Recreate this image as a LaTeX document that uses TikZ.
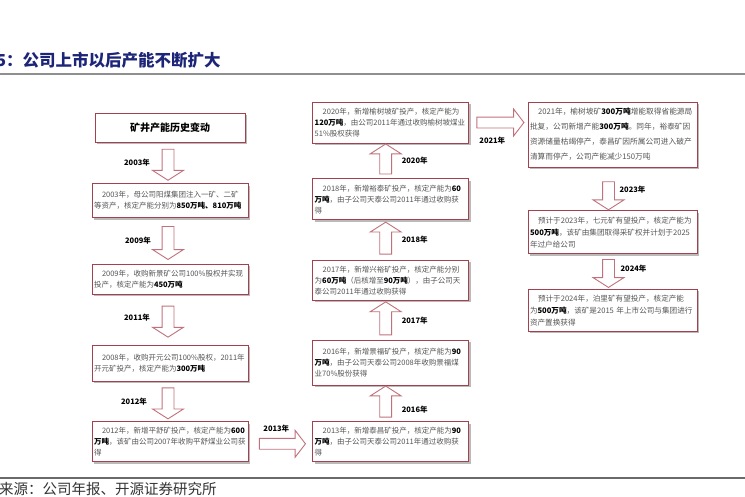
\documentclass[tikz,border=0pt]{standalone}
\usepackage{fontspec}
\setmainfont{Noto Sans CJK SC}
\usetikzlibrary{shapes.arrows, positioning, calc, shadows}
\definecolor{CardLine}{HTML}{A5414F}
\definecolor{ArrowLine}{HTML}{C0727C}
\definecolor{TitleBlue}{HTML}{1C2577}
\definecolor{BodyGray}{HTML}{555555}
\definecolor{RuleGray}{HTML}{8F8F8F}
\definecolor{FootGray}{HTML}{6A6A6A}
\newcommand{\bnum}[1]{\textbf{\color{black}#1}}
\newcommand{\ind}{\hspace*{8pt}}

\begin{document}
\begin{tikzpicture}[x=1pt, y=1pt,
    card/.style={
        rectangle, draw=CardLine, line width=0.7pt, fill=white,
        drop shadow={shadow xshift=2pt, shadow yshift=-2pt,
                     fill=black!45, opacity=0.6},
        text width=#1, align=left, inner xsep=2pt, inner ysep=1pt,
        font=\fontsize{7.5}{11}\selectfont, text=BodyGray
    },
    card/.default={152pt},
    downarr/.style={
        single arrow, shape border rotate=270, draw=ArrowLine,
        line width=0.9pt, fill=white, inner sep=5.5pt,
        single arrow head extend=9.5pt, single arrow tip angle=115,
        minimum height=#1
    },
    uparr/.style={downarr=#1, shape border rotate=90},
    rightarr/.style={
        single arrow, draw=ArrowLine, line width=0.9pt, fill=white,
        inner sep=5pt, single arrow head extend=8pt,
        single arrow tip angle=105, minimum height=#1
    },
    yr/.style={font=\fontsize{7.5}{9}\selectfont\bfseries, text=black,
               inner sep=0pt}
]
\useasboundingbox (0,0) rectangle (745,-496);

% ===================================================================
% TITLE AND SOURCE
% ===================================================================
\node[anchor=west, inner sep=0pt, text=TitleBlue,
      font=\fontsize{16.5}{17}\selectfont\bfseries] (title) at (-4,-60)
    {5：公司上市以后产能不断扩大};
\draw[RuleGray, line width=1.6pt] (0,-74) -- (745,-74);

\draw[FootGray, line width=1.3pt] (0,-478) -- (745,-478);
\node[anchor=west, inner sep=0pt, text=black!80,
      font=\fontsize{14.5}{15}\selectfont] (source) at (-1,-489)
    {来源：公司年报、开源证券研究所};

% ===================================================================
% LEFT COLUMN: 2003 -- 2012
% ===================================================================
\node[card=146pt, minimum height=29pt, align=center, text=black,
      font=\fontsize{10}{12}\selectfont\bfseries] (hist) at (170,-127.5)
    {矿井产能历史变动};

\node[card, below=41pt of hist, minimum height=34pt] (y2003)
    {\ind 2003年，母公司阳煤集团注入一矿、二矿\\
     等资产，核定产能分别为\bnum{850万吨、810万吨}};

\node[card, below=46pt of y2003, minimum height=30pt] (y2009)
    {\ind 2009年，收购新景矿公司100\%股权并实现\\
     投产，核定产能为\bnum{450万吨}};

\node[card, below=50pt of y2009, minimum height=36pt] (y2011)
    {\ind 2008年，收购开元公司100\%股权，2011年\\
     开元矿投产，核定产能为\bnum{300万吨}};

\node[card, below=40pt of y2011, minimum height=40pt] (y2012)
    {\ind 2012年，新增平舒矿投产，核定产能为\bnum{600}\\
     \bnum{万吨}，该矿由公司2007年收购平舒煤业公司获\\
     得};

% ===================================================================
% MIDDLE COLUMN: 2013 -- 2020 (bottom up)
% ===================================================================
\node[card, right=64pt of y2012, minimum height=40pt] (y2013)
    {\ind 2013年，新增泰昌矿投产，核定产能为\bnum{90}\\
     \bnum{万吨}，由子公司天泰公司2011年通过收购获\\
     得};

\node[card, above=36pt of y2013, minimum height=45pt] (y2016)
    {\ind 2016年，新增景福矿投产，核定产能为\bnum{90}\\
     \bnum{万吨}，由子公司天泰公司2008年收购景福煤\\
     业70\%股份获得};

\node[card, above=39pt of y2016, minimum height=40pt] (y2017)
    {\ind 2017年，新增兴裕矿投产，核定产能分别\\
     为\bnum{60万吨}（后核增至\bnum{90万吨}），由子公司天\\
     泰公司2011年通过收购获得};

\node[card, above=40pt of y2017, minimum height=41pt] (y2018)
    {\ind 2018年，新增裕泰矿投产，核定产能为\bnum{60}\\
     \bnum{万吨}，由子公司天泰公司2011年通过收购获\\
     得};

\node[card, above=35pt of y2018, minimum height=41pt] (y2020)
    {\ind 2020年，新增榆树坡矿投产，核定产能为\\
     \bnum{120万吨}，由公司2011年通过收购榆树坡煤业\\
     51\%股权获得};

% ===================================================================
% RIGHT COLUMN: 2021 -- 2024
% ===================================================================
\node[card=165pt, minimum height=65pt,
      font=\fontsize{7.7}{15}\selectfont] (y2021) at (612.5,-134.5)
    {\ind 2021年，榆树坡矿\bnum{300万吨}增能取得省能源局\\
     批复，公司新增产能\bnum{300万吨}。同年，裕泰矿因\\
     资源储量枯竭停产，泰昌矿因所属公司进入破产\\
     清算而停产，公司产能减少150万吨};

\node[card=165pt, below=43pt of y2021, minimum height=43pt,
      font=\fontsize{7.6}{12}\selectfont] (y2023)
    {\ind 预计于2023年，七元矿有望投产，核定产能为\\
     \bnum{500万吨}，该矿由集团取得采矿权并计划于2025\\
     年过户给公司};

\node[card=165pt, below=35pt of y2023, minimum height=42pt,
      font=\fontsize{7.6}{12}\selectfont] (y2024)
    {\ind 预计于2024年，泊里矿有望投产，核定产能\\
     为\bnum{500万吨}，该矿是2015~年上市公司与集团进行\\
     资产置换获得};

% ===================================================================
% BLOCK ARROWS
% ===================================================================
\node[downarr=31pt] (a2003) at ($(hist.south)!0.5!(y2003.north)+(-2,0)$) {};
\node[yr] (l2003) at ($(a2003)+(-31,0)$) {2003年};
\node[downarr=33pt] (a2009) at ($(y2003.south)!0.5!(y2009.north)+(-2,0)$) {};
\node[yr] (l2009) at ($(a2009)+(-30,0)$) {2009年};
\node[downarr=31pt] (a2011) at ($(y2009.south)!0.5!(y2011.north)+(-2,0)$) {};
\node[yr] (l2011) at ($(a2011)+(-31,2)$) {2011年};
\node[downarr=31pt] (a2012) at ($(y2011.south)!0.5!(y2012.north)+(-2,0)$) {};
\node[yr] (l2012) at ($(a2012)+(-34,0)$) {2012年};

\node[rightarr=46pt] (a2013) at ($(y2012.east)!0.5!(y2013.west)+(0,-2)$) {};
\node[yr] (l2013) at ($(a2013)+(-4,15)$) {2013年};

\node[uparr=31pt] (a2016) at ($(y2013.north)!0.5!(y2016.south)+(-5,0)$) {};
\node[yr] (l2016) at ($(a2016)+(29,-6)$) {2016年};
\node[uparr=33pt] (a2017) at ($(y2016.north)!0.5!(y2017.south)+(-5,0)$) {};
\node[yr] (l2017) at ($(a2017)+(29,0)$) {2017年};
\node[uparr=32pt] (a2018) at ($(y2017.north)!0.5!(y2018.south)+(-5,0)$) {};
\node[yr] (l2018) at ($(a2018)+(29,0)$) {2018年};
\node[uparr=30pt] (a2020) at ($(y2018.north)!0.5!(y2020.south)+(-5,0)$) {};
\node[yr] (l2020) at ($(a2020)+(29,0)$) {2020年};

\node[rightarr=47pt] (a2021) at ($(y2020.east)!0.5!(y2020.east -| y2021.west)$) {};
\node[yr] (l2021) at ($(a2021)+(-6,-18)$) {2021年};

\node[downarr=28pt] (a2023) at ($(y2021.south)!0.5!(y2023.north)+(-4,-5)$) {};
\node[yr] (l2023) at ($(a2023)+(24,4)$) {2023年};
\node[downarr=28pt] (a2024) at ($(y2023.south)!0.5!(y2024.north)+(-4,0)$) {};
\node[yr] (l2024) at ($(a2024)+(25,3)$) {2024年};

\end{tikzpicture}
\end{document}
